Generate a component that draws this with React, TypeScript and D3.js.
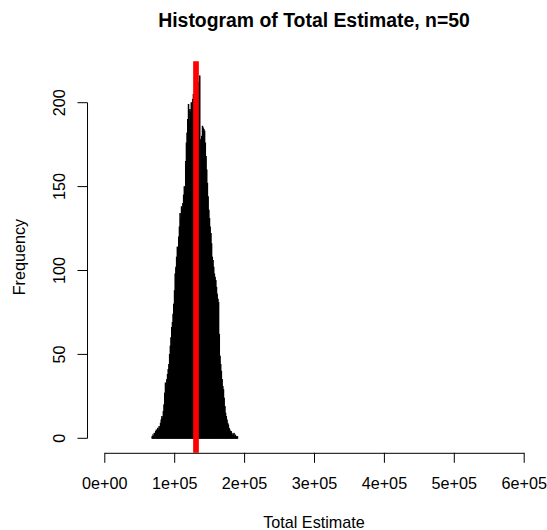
import React, { useEffect, useRef } from "react";
import * as d3 from "d3";

// histogram of the simulated totals, one bin per 1000, first bin starts at 68000
const binStart = 68000;
const binWidth = 1000;
const counts = [
  1, 2, 1, 3, 2, 4, 5, 4, 6, 5,
  7, 6, 9, 11, 13, 12, 16, 20, 27, 33,
  30, 35, 38, 41, 44, 50, 55, 60, 66, 69,
  74, 80, 88, 98, 102, 108, 114, 112, 120, 126,
  134, 131, 138, 136, 140, 145, 150, 148, 165, 176,
  182, 190, 199, 188, 196, 194, 200, 198, 202, 205,
  204, 206, 208, 205, 210, 207, 212, 209, 216, 178,
  174, 180, 186, 185, 184, 183, 176, 168, 160, 152,
  144, 136, 131, 126, 122, 116, 108, 106, 102, 98,
  96, 94, 90, 86, 83, 81, 62, 49, 44, 40,
  35, 31, 29, 24, 19, 15, 13, 11, 9, 8,
  6, 5, 4, 4, 3, 2, 2, 3, 1, 2,
  1, 1, 1,
];
const trueTotal = 131200;

const xTicks = [0, 100000, 200000, 300000, 400000, 500000, 600000];
const xTickLabels = ["0e+00", "1e+05", "2e+05", "3e+05", "4e+05", "5e+05", "6e+05"];
const yTicks = [0, 50, 100, 150, 200];

const font = "'Liberation Sans', Arial, Helvetica, sans-serif";
const labelSize = 16.2;

const Histogram = () => {
  const ref = useRef(null);

  useEffect(() => {
    const svg = d3.select(ref.current);
    svg.selectAll("*").remove();

    const x = d3.scaleLinear().domain([0, 600000]).range([104.3, 523.7]);
    const y = d3.scaleLinear().domain([0, 200]).range([438.3, 102.7]);

    // plot region, R style 4% padding
    const left = x(-24000);
    const right = x(624000);
    const top = y(224.64);
    const bottom = y(-8.64);

    svg
      .append("text")
      .attr("x", (left + right) / 2)
      .attr("y", 27)
      .attr("text-anchor", "middle")
      .attr("font-family", font)
      .attr("font-weight", "bold")
      .attr("font-size", 19.4)
      .text("Histogram of Total Estimate, n=50");

    svg
      .append("g")
      .selectAll("rect")
      .data(counts)
      .enter()
      .append("rect")
      .attr("x", (d, i) => x(binStart + i * binWidth))
      .attr("y", d => y(d))
      .attr("width", (d, i) => x(binStart + (i + 1) * binWidth) - x(binStart + i * binWidth))
      .attr("height", d => y(0) - y(d))
      .attr("fill", "#000")
      .attr("stroke", "#000")
      .attr("stroke-width", 0.8);

    svg
      .append("line")
      .attr("x1", x(trueTotal))
      .attr("x2", x(trueTotal))
      .attr("y1", top)
      .attr("y2", bottom)
      .attr("stroke", "#ff0000")
      .attr("stroke-width", 5.7);

    // x axis
    const xAxis = svg
      .append("g")
      .attr("transform", `translate(0 ${bottom})`)
      .call(
        d3
          .axisBottom(x)
          .tickValues(xTicks)
          .tickFormat((d, i) => xTickLabels[i])
          .tickSize(10)
          .tickSizeOuter(0)
          .tickPadding(14.9)
      );
    xAxis.selectAll("text").attr("font-family", font).attr("font-size", labelSize).attr("fill", "#000");
    xAxis.selectAll("line, path").attr("stroke", "#000");

    // y axis
    const yAxis = svg.append("g").attr("transform", `translate(${left} 0)`);
    yAxis
      .append("line")
      .attr("x1", 0)
      .attr("x2", 0)
      .attr("y1", y(0))
      .attr("y2", y(200))
      .attr("stroke", "#000");
    yAxis
      .selectAll("line.tick")
      .data(yTicks)
      .enter()
      .append("line")
      .attr("class", "tick")
      .attr("x1", 0)
      .attr("x2", -10)
      .attr("y1", d => y(d))
      .attr("y2", d => y(d))
      .attr("stroke", "#000");
    yAxis
      .selectAll("text")
      .data(yTicks)
      .enter()
      .append("text")
      .attr("transform", d => `translate(-23 ${y(d)}) rotate(-90)`)
      .attr("text-anchor", "middle")
      .attr("font-family", font)
      .attr("font-size", labelSize)
      .text(d => d);

    svg
      .append("text")
      .attr("transform", `translate(24.5 ${(top + bottom) / 2}) rotate(-90)`)
      .attr("text-anchor", "middle")
      .attr("font-family", font)
      .attr("font-size", labelSize)
      .text("Frequency");

    svg
      .append("text")
      .attr("x", (left + right) / 2)
      .attr("y", 528)
      .attr("text-anchor", "middle")
      .attr("font-family", font)
      .attr("font-size", labelSize)
      .text("Total Estimate");
  }, []);

  return (
    <svg
      ref={ref}
      width={547}
      height={530}
      style={{ position: "absolute", left: 0, top: 0, background: "#fff" }}
    />
  );
};

export default function App() {
  return <Histogram />;
}
